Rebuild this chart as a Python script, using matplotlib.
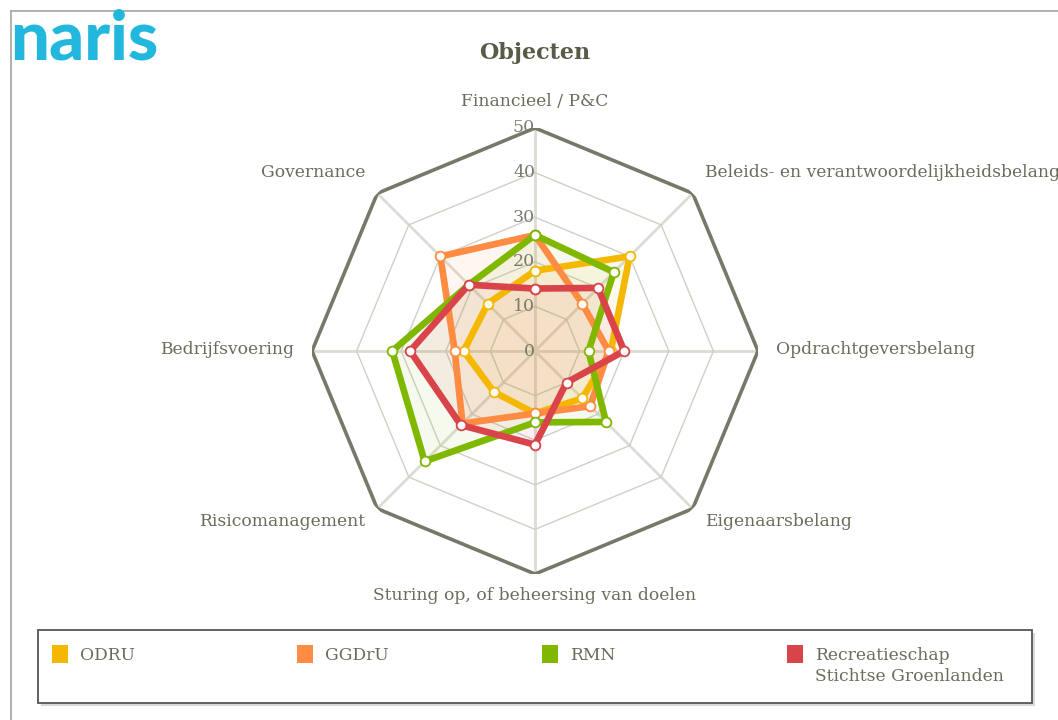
import numpy as np
import matplotlib
matplotlib.use("Agg")
import matplotlib.pyplot as plt
from matplotlib.patches import Rectangle

# ---------------- data ----------------
categories = ["Financieel / P&C",
              "Beleids- en verantwoordelijkheidsbelang",
              "Opdrachtgeversbelang",
              "Eigenaarsbelang",
              "Sturing op, of beheersing van doelen",
              "Risicomanagement",
              "Bedrijfsvoering",
              "Governance"]
series_names = ["ODRU", "GGDrU", "RMN", "Recreatieschap\nStichtse Groenlanden"]
odru = [18, 30, 17, 15, 14, 13, 16, 15]
ggdru = [26, 15, 16.5, 17.5, 14, 23, 18, 30]
rmn = [26, 25, 12, 22.5, 16, 35, 32, 21]
recreatie = [14, 20, 20, 10, 21, 23.5, 28, 21]
series_values = [odru, ggdru, rmn, recreatie]
colors = ["#f5b800", "#ff8c42", "#80b800", "#d9434a"]
radial_ticks = [0, 10, 20, 30, 40, 50]
title = "Objecten"

# ---------------- figure ----------------
W, H = 1058, 720
fig = plt.figure(figsize=(W / 100, H / 100), dpi=100)
fig.patch.set_facecolor("white")
txt_col = "#6b6b5c"
serif = "DejaVu Serif"
fs = 12.3

# frame lines (top + left)
fig.add_artist(plt.Line2D([11 / W, 1], [1 - 11 / H, 1 - 11 / H], color="#aaaaaa", lw=1.3))
fig.add_artist(plt.Line2D([11 / W, 11 / W], [0, 1 - 11 / H], color="#aaaaaa", lw=1.3))

# logo
fig.text(10 / W, 1 - 40 / H, "naris", color="#22b8de", fontsize=49.5, fontfamily="Lato",
         fontweight="black", ha="left", va="center")

# title
fig.text(535 / W, 1 - 53 / H, title, ha="center", va="center", fontsize=16,
         fontweight="bold", fontfamily=serif, color="#5a5a48")

cx, cy, R = 535, 351, 223
ax = fig.add_axes([(cx - R) / W, (H - cy - R) / H, 2 * R / W, 2 * R / H], projection="polar")
ax.set_theta_zero_location("N")
ax.set_theta_direction(-1)
ax.set_ylim(0, 50)
ax.set_xticks([])
ax.set_yticks([])
ax.grid(False)
ax.spines["polar"].set_visible(False)
ax.patch.set_alpha(0)

n = len(categories)
theta = np.linspace(0, 2 * np.pi, n, endpoint=False)
theta_c = np.append(theta, theta[0])

# spokes
for t in theta:
    ax.plot([t, t], [0, 50], color="#dcdcd4", lw=2, zorder=1)
# octagon grid
for r in radial_ticks[1:]:
    if r == radial_ticks[-1]:
        ax.plot(theta_c, [r] * (n + 1), color="#77776a", lw=2.6, zorder=2)
    else:
        ax.plot(theta_c, [r] * (n + 1), color="#cfcfc8", lw=1.0, zorder=1)

# series
for vals, col in zip(series_values, colors):
    v = np.append(vals, vals[0])
    ax.fill(theta_c, v, color=col, alpha=0.07, zorder=3, lw=0)
for vals, col in zip(series_values, colors):
    v = np.append(vals, vals[0])
    ax.plot(theta_c, v, color=col, lw=4.8, zorder=4, solid_joinstyle="miter",
            marker="o", markersize=7, markerfacecolor="white",
            markeredgecolor=col, markeredgewidth=1.3)

# radial tick labels
for r in radial_ticks:
    ax.text(0, r, str(r), ha="right", va="center", fontsize=12.5, fontfamily=serif,
            color="#7a7a6e", zorder=5)

# category labels
for t, lab in zip(theta, categories):
    deg = np.degrees(t)
    kw = dict(fontsize=fs, fontfamily=serif, color=txt_col, va="center",
              textcoords="offset pixels", annotation_clip=False)
    if abs(deg) < 1:
        ax.annotate(lab, xy=(t, 50), xytext=(0, 26), ha="center", **kw)
    elif abs(deg - 180) < 1:
        ax.annotate(lab, xy=(t, 50), xytext=(0, -21), ha="center", **kw)
    elif abs(deg - 90) < 1:
        ax.annotate(lab, xy=(t, 50), xytext=(18, 2), ha="left", **kw)
    elif abs(deg - 270) < 1:
        ax.annotate(lab, xy=(t, 50), xytext=(-18, 2), ha="right", **kw)
    elif deg < 90:
        ax.annotate(lab, xy=(t, 50), xytext=(12, 21), ha="left", **kw)
    elif deg < 180:
        ax.annotate(lab, xy=(t, 50), xytext=(12, -13), ha="left", **kw)
    elif deg < 270:
        ax.annotate(lab, xy=(t, 50), xytext=(-12, -13), ha="right", **kw)
    else:
        ax.annotate(lab, xy=(t, 50), xytext=(-12, 21), ha="right", **kw)

# legend box
lx0, ly0, lx1, ly1 = 38, 630, 1032, 703
fig.add_artist(Rectangle(((lx0 + 3) / W, 1 - (ly1 + 3) / H), (lx1 - lx0) / W, (ly1 - ly0) / H,
                         transform=fig.transFigure, facecolor="#d8d8d8", edgecolor="none", zorder=1))
fig.add_artist(Rectangle((lx0 / W, 1 - ly1 / H), (lx1 - lx0) / W, (ly1 - ly0) / H,
                         transform=fig.transFigure, facecolor="white", edgecolor="#555555", lw=1.3, zorder=2))
for i, (name, col) in enumerate(zip(series_names, colors)):
    x = 52 + i * 245
    fig.add_artist(Rectangle((x / W, 1 - 663 / H), 16 / W, 18 / H, transform=fig.transFigure,
                             facecolor=col, edgecolor="none", zorder=3))
    fig.text((x + 28) / W, 1 - 647 / H, name, ha="left", va="top", fontsize=fs,
             fontfamily=serif, color=txt_col, linespacing=1.3, zorder=4)

fig.savefig("out.png", dpi=100)
